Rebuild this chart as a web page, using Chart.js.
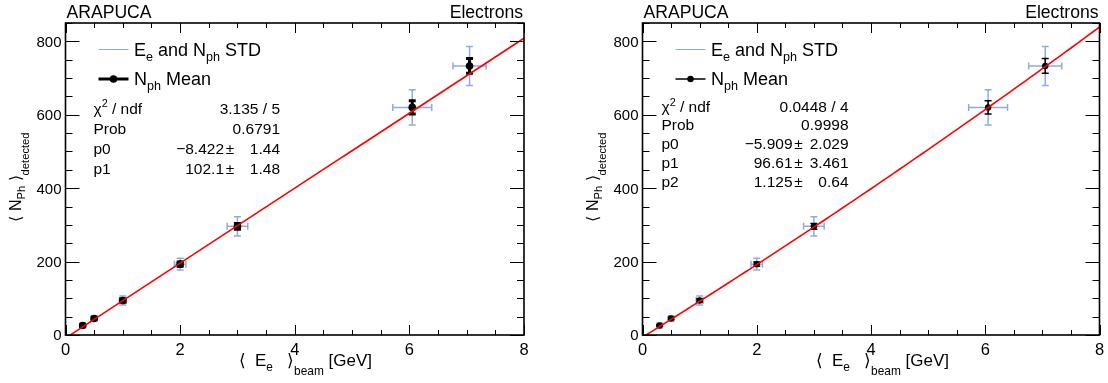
<!DOCTYPE html>
<html>
<head>
<meta charset="utf-8">
<script src="https://cdn.jsdelivr.net/npm/chart.js@4.4.0/dist/chart.umd.min.js"></script>
<style>
  body { margin: 0; background: #fff; width: 1108px; height: 383px; overflow: hidden; position: relative; }
  canvas { position: absolute; top: 0; }
</style>
</head>
<body>
<canvas id="left" width="554" height="383" style="left:0"></canvas>
<canvas id="right" width="554" height="383" style="left:554px"></canvas>
<script>
// Beam energy points and detected photon numbers
const energy = [0.3, 0.5, 1.0, 2.0, 3.0, 6.05, 7.05];
const nphMean = [26, 45, 94, 193, 296, 620, 733];
// spreads (STD) and error of the mean
const energyStd = [0.03, 0.04, 0.06, 0.10, 0.18, 0.34, 0.29];
const nphStd = [6, 7, 12, 16, 26, 48, 53];
const nphMeanErr = [2, 3, 4, 6, 8, 18, 20];

// axis ticks
const xTicks = [0, 2, 4, 6, 8];
const yTicks = [0, 200, 400, 600, 800];

// fit parameters as printed in the stat boxes
const fitLinear = [-8.422, 102.1];
const fitQuad = [-5.909, 96.61, 1.125];
const statsLinear = [
  ["χ2 / ndf", "3.135 / 5"],
  ["Prob", "0.6791"],
  ["p0", "−8.422", "1.44"],
  ["p1", "102.1", "1.48"]
];
const statsQuad = [
  ["χ2 / ndf", "0.0448 / 4"],
  ["Prob", "0.9998"],
  ["p0", "−5.909", "2.029"],
  ["p1", "96.61", "3.461"],
  ["p2", "1.125", "0.64"]
];

const FONT = '"Liberation Sans", Arial, sans-serif';
const STD_BLUE = "rgb(145,170,225)";

function fitPoints(pars) {
  const pts = [];
  for (let i = 0; i <= 80; i++) {
    const x = i * 0.1;
    let y = 0;
    pars.forEach((p, k) => { y += p * Math.pow(x, k); });
    pts.push({ x: x, y: y });
  }
  return pts;
}

// draw text with sub/superscripts: parts = [[text, kind], ...]
function richWidth(ctx, parts, size) {
  let w = 0;
  parts.forEach(([t, k]) => {
    ctx.font = (k === "n" ? size : size * 0.7) + "px " + FONT;
    w += ctx.measureText(t).width;
  });
  return w;
}
function drawRich(ctx, parts, x, y, size, align) {
  const w = richWidth(ctx, parts, size);
  let cx = align === "right" ? x - w : align === "center" ? x - w / 2 : x;
  ctx.textAlign = "left";
  ctx.textBaseline = "alphabetic";
  parts.forEach(([t, k]) => {
    let s = size, dy = 0;
    if (k === "sub") { s = size * 0.7; dy = size * 0.3; }
    if (k === "low") { s = size * 0.7; dy = size * 0.55; }
    if (k === "sup") { s = size * 0.7; dy = -size * 0.4; }
    ctx.font = s + "px " + FONT;
    ctx.fillText(t, cx, y + dy);
    cx += ctx.measureText(t).width;
  });
}

function errorBar(ctx, x0, y0, x1, y1, cap, horizontal) {
  ctx.beginPath();
  ctx.moveTo(x0, y0); ctx.lineTo(x1, y1);
  if (horizontal) {
    ctx.moveTo(x0, y0 - cap); ctx.lineTo(x0, y0 + cap);
    ctx.moveTo(x1, y1 - cap); ctx.lineTo(x1, y1 + cap);
  } else {
    ctx.moveTo(x0 - cap, y0); ctx.lineTo(x0 + cap, y0);
    ctx.moveTo(x1 - cap, y1); ctx.lineTo(x1 + cap, y1);
  }
  ctx.stroke();
}

function makeDecor(cfg) {
  return {
    id: "decor",
    beforeDatasetsDraw(chart) {
      const ctx = chart.ctx, xs = chart.scales.x, ys = chart.scales.y;
      ctx.save();
      // STD error bars
      ctx.strokeStyle = STD_BLUE;
      ctx.lineWidth = 1.5;
      energy.forEach((e, i) => {
        const px = xs.getPixelForValue(e), py = ys.getPixelForValue(nphMean[i]);
        errorBar(ctx, xs.getPixelForValue(e - energyStd[i]), py, xs.getPixelForValue(e + energyStd[i]), py, 3.5, true);
        errorBar(ctx, px, ys.getPixelForValue(nphMean[i] - nphStd[i]), px, ys.getPixelForValue(nphMean[i] + nphStd[i]), 3.5, false);
      });
      // mean errors
      ctx.strokeStyle = "#000";
      ctx.lineWidth = cfg.meanWidth;
      energy.forEach((e, i) => {
        const px = xs.getPixelForValue(e);
        errorBar(ctx, px, ys.getPixelForValue(nphMean[i] - nphMeanErr[i]), px, ys.getPixelForValue(nphMean[i] + nphMeanErr[i]), 3.5, false);
      });
      ctx.restore();
    },
    afterDraw(chart) {
      const ctx = chart.ctx, xs = chart.scales.x, ys = chart.scales.y;
      const a = chart.chartArea;
      const L = a.left, R = a.right, T = a.top, B = a.bottom;
      ctx.save();
      ctx.fillStyle = "#000";
      ctx.strokeStyle = "#000";
      // inner ticks on all sides
      ctx.lineWidth = 1;
      ctx.beginPath();
      for (let v = 0; v <= 8.001; v += 0.5) {
        const px = Math.round(xs.getPixelForValue(v)) + 0.5;
        const len = Math.abs(v % 2) < 1e-6 ? 10 : 5;
        ctx.moveTo(px, B); ctx.lineTo(px, B - len);
        ctx.moveTo(px, T); ctx.lineTo(px, T + len);
      }
      for (let v = 0; v <= 850; v += 50) {
        const py = Math.round(ys.getPixelForValue(v)) + 0.5;
        const len = v % 200 === 0 ? 14 : 7;
        ctx.moveTo(L, py); ctx.lineTo(L + len, py);
        ctx.moveTo(R, py); ctx.lineTo(R - len, py);
      }
      ctx.stroke();
      // frame
      ctx.lineWidth = 1.6;
      ctx.strokeRect(L, T, R - L, B - T);

      // tick labels
      ctx.font = "15px " + FONT;
      ctx.textAlign = "right";
      ctx.textBaseline = "alphabetic";
      yTicks.forEach(v => ctx.fillText(String(v), L - 4, ys.getPixelForValue(v) + 5.4));
      ctx.font = "16.5px " + FONT;
      ctx.textAlign = "center";
      xTicks.forEach(v => ctx.fillText(String(v), xs.getPixelForValue(v), 354.5));

      // axis titles
      drawRich(ctx, [["⟨  E", "n"], ["e", "sub"], ["   ⟩", "n"], ["beam", "low"], [" [GeV]", "n"]], L + 306.5, 366, 17, "right");
      ctx.save();
      ctx.translate(L - 45, 177);
      ctx.rotate(-Math.PI / 2);
      drawRich(ctx, [["⟨ N", "n"], ["Ph", "sub"], [" ⟩", "n"], ["detected", "low"]], 0, 0, 16, "center");
      ctx.restore();

      // header texts
      ctx.font = "17.6px " + FONT;
      ctx.textAlign = "left";
      ctx.fillText("ARAPUCA", L + 1, 17.5);
      ctx.textAlign = "right";
      ctx.fillText("Electrons", R - 1, 17.5);

      // legend
      ctx.strokeStyle = STD_BLUE;
      ctx.lineWidth = 1;
      ctx.beginPath(); ctx.moveTo(L + 33, 49.5); ctx.lineTo(L + 63, 49.5); ctx.stroke();
      ctx.strokeStyle = "#000";
      ctx.lineWidth = cfg.meanWidth;
      ctx.beginPath(); ctx.moveTo(L + 33, 79); ctx.lineTo(L + 63, 79); ctx.stroke();
      ctx.beginPath(); ctx.arc(L + 48, 79, cfg.marker, 0, Math.PI * 2); ctx.fill();
      drawRich(ctx, [["E", "n"], ["e", "sub"], [" and N", "n"], ["ph", "sub"], [" STD", "n"]], L + 68.5, 55.5, 18, "left");
      drawRich(ctx, [["N", "n"], ["ph", "sub"], [" Mean", "n"]], L + 68.5, 85, 18, "left");

      // fit statistics
      cfg.stats.forEach((row, i) => {
        const y = cfg.statY + i * cfg.statStep;
        const label = row[0] === "χ2 / ndf" ? [["χ", "n"], ["2", "sup"], [" / ndf", "n"]] : [[row[0], "n"]];
        drawRich(ctx, label, L + cfg.statLabel, y, 15.5, "left");
        ctx.font = "15.5px " + FONT;
        if (row.length === 2) {
          ctx.textAlign = "right";
          ctx.fillText(row[1], L + cfg.statEnd, y);
        } else {
          ctx.textAlign = "right";
          ctx.fillText(row[1], L + cfg.statEnd - 56, y);
          ctx.textAlign = "center";
          ctx.fillText("±", L + cfg.statEnd - 50, y);
          ctx.textAlign = "right";
          ctx.fillText(row[2], L + cfg.statEnd, y);
        }
      });
      ctx.restore();
    }
  };
}

function buildChart(id, cfg) {
  const meanPoints = energy.map((e, i) => ({ x: e, y: nphMean[i] }));
  return new Chart(document.getElementById(id), {
    type: "scatter",
    data: {
      datasets: [
        {
          label: "fit",
          data: fitPoints(cfg.fit),
          showLine: true,
          borderColor: "#ff0000",
          borderWidth: 1.6,
          pointRadius: 0,
          order: 0
        },
        {
          label: "Nph Mean",
          data: meanPoints,
          backgroundColor: "#000",
          borderColor: "#000",
          pointRadius: cfg.marker,
          pointBorderWidth: 0,
          order: 1
        }
      ]
    },
    options: {
      responsive: false,
      devicePixelRatio: 1,
      animation: false,
      layout: { padding: { left: 0, right: cfg.padRight, top: 23, bottom: 0 } },
      plugins: { legend: { display: false }, tooltip: { enabled: false } },
      scales: {
        x: {
          type: "linear", min: 0, max: 8,
          grid: { display: false }, border: { display: false },
          ticks: { display: false },
          afterFit: s => { s.height = 48; }
        },
        y: {
          type: "linear", min: 0, max: 850,
          grid: { display: false }, border: { display: false },
          ticks: { display: false },
          afterFit: s => { s.width = cfg.axisWidth; }
        }
      }
    },
    plugins: [makeDecor(cfg)]
  });
}

buildChart("left", {
  fit: fitLinear, stats: statsLinear, axisWidth: 65.5, padRight: 30,
  meanWidth: 3, marker: 3.8, statLabel: 28, statEnd: 214.5, statY: 113.5, statStep: 20.3
});
buildChart("right", {
  fit: fitQuad, stats: statsQuad, axisWidth: 88.5, padRight: 8.5,
  meanWidth: 1.5, marker: 3.2, statLabel: 19, statEnd: 206, statY: 111.7, statStep: 18.7
});
</script>
</body>
</html>
